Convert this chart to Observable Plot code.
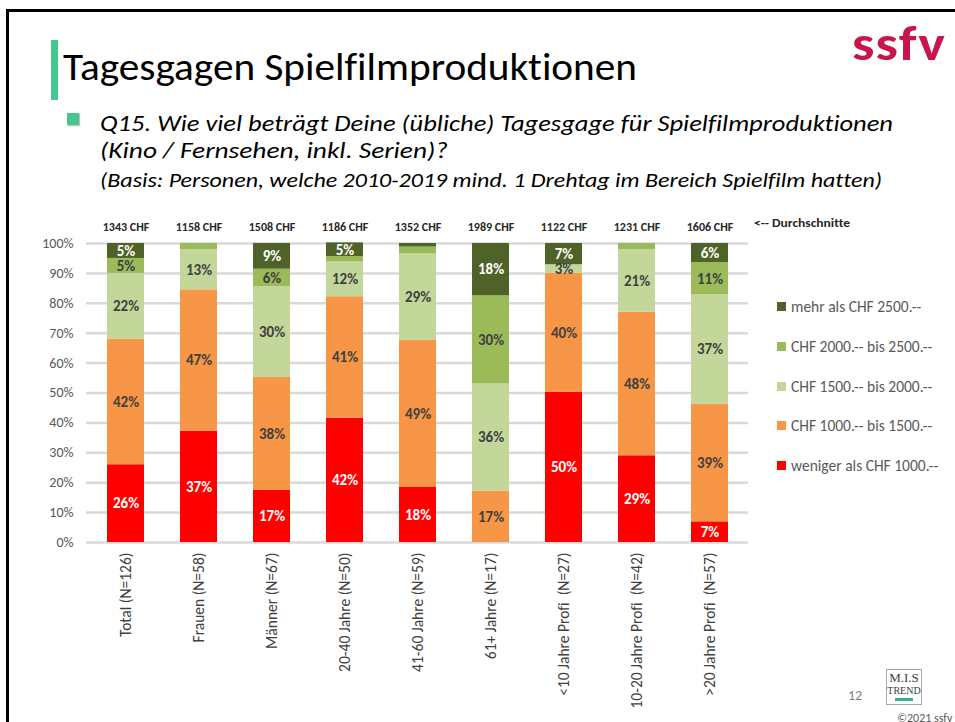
<!DOCTYPE html>
<html>
<head>
<meta charset="utf-8">
<script src="https://cdn.jsdelivr.net/npm/d3@7"></script>
<script src="https://cdn.jsdelivr.net/npm/@observablehq/plot@0.6"></script>
<style>
  html, body { margin: 0; padding: 0; background: #fff; }
  body { width: 955px; height: 722px; position: relative; overflow: hidden; font-family: Carlito, Calibri, Lato, sans-serif; font-variant-ligatures: none; }
  .abs { position: absolute; white-space: nowrap; }
  #frameTop { left: 6px; top: 9px; width: 960px; height: 3px; background: #000; }
  #frameLeft { left: 6px; top: 9px; width: 3px; height: 720px; background: #000; }
  #accent { left: 51px; top: 40px; width: 7px; height: 60px; background: #45C88F; }
  #title { left: 63px; top: 48px; font-size: 38px; color: #000; line-height: 1; transform-origin: left top; }
  #logo { left: 852px; top: 20px; font-size: 48px; font-weight: bold; color: #C8154B; line-height: 1; letter-spacing: 1px; transform-origin: left top; }
  #bullet { left: 67px; top: 113px; width: 12px; height: 12px; background: #45C88F; box-shadow: 1px 1px 1px rgba(0,0,0,0.25); }
  .q { left: 100px; font-style: italic; color: #000; line-height: 1; transform-origin: left top; }
  #q1 { top: 113px; font-size: 22px; }
  #q2 { top: 140px; font-size: 22px; }
  #q3 { top: 170px; font-size: 20px; }
  #chart { left: 0; top: 200px; }
  #avgNote { left: 754px; top: 215px; font-size: 12.5px; font-weight: bold; color: #262626; transform-origin: left top; }
  .leg { left: 777px; font-size: 15.5px; color: #595959; line-height: 1; }
  .leg span.sw { display: inline-block; width: 9px; height: 9px; margin-right: 5px; vertical-align: 1px; }
  #page { left: 848px; top: 687px; font-size: 14px; color: #7F7F7F; }
  #mis { left: 886px; top: 669px; width: 34px; height: 34px; border: 1px solid #A6A6A6; font-family: "Liberation Serif", serif; color: #404040; text-align: center; }
  #mis .a { position: absolute; left: 0; top: 1px; width: 34px; font-size: 13px; line-height: 1; }
  #mis .b { position: absolute; left: 0; top: 16px; width: 34px; font-size: 10px; line-height: 1; }
  #mis .u { position: absolute; left: 8px; top: 28px; width: 18px; height: 3px; background: #2FB58B; }
  #copy { left: 897px; top: 711px; font-size: 12px; color: #595959; }
</style>
</head>
<body>
<div class="abs" id="frameTop"></div>
<div class="abs" id="frameLeft"></div>
<div class="abs" id="accent"></div>
<div class="abs" id="title">Tagesgagen Spielfilmproduktionen</div>
<div class="abs" id="logo">ssfv</div>
<div class="abs" id="bullet"></div>
<div class="abs q" id="q1">Q15. Wie viel beträgt Deine (übliche) Tagesgage für Spielfilmproduktionen</div>
<div class="abs q" id="q2">(Kino / Fernsehen, inkl. Serien)?</div>
<div class="abs q" id="q3">(Basis: Personen, welche 2010-2019 mind. 1 Drehtag im Bereich Spielfilm hatten)</div>
<div class="abs" id="chart"></div>
<div class="abs" id="avgNote">&lt;-- Durchschnitte</div>
<div id="legend"></div>
<div class="abs" id="page">12</div>
<div class="abs" id="mis"><div class="a">M.I.S</div><div class="b">TREND</div><div class="u"></div></div>
<div class="abs" id="copy">©2021 ssfv</div>
<script>
// ---- data ----
const categories = [
  "Total (N=126)", "Frauen (N=58)", "Männer (N=67)", "20-40 Jahre (N=50)",
  "41-60 Jahre (N=59)", "61+ Jahre (N=17)", "<10 Jahre Profi  (N=27)",
  "10-20 Jahre Profi  (N=42)", ">20 Jahre Profi  (N=57)"
];
const averages = ["1343 CHF", "1158 CHF", "1508 CHF", "1186 CHF", "1352 CHF", "1989 CHF", "1122 CHF", "1231 CHF", "1606 CHF"];
const seriesNames = [
  "weniger als CHF 1000.--",
  "CHF 1000.-- bis 1500.--",
  "CHF 1500.-- bis 2000.--",
  "CHF 2000.-- bis 2500.--",
  "mehr als CHF 2500.--"
];
const seriesColors = ["#FF0000", "#F79646", "#C4D79B", "#9BBB59", "#4F6228"];
const under1000   = [26, 37.2, 17.4, 41.6, 18.4, 0,    50.2, 29, 6.9];
const from1000    = [42, 47.3, 37.8, 40.6, 49.2, 17.2, 39.8, 48, 39.3];
const from1500    = [22, 13.4, 30.3, 11.6, 28.9, 35.8, 2.9,  21, 36.6];
const from2000    = [5,  2.1,  5.9,  1.8,  2.3,  29.5, 0,    2,  10.8];
const over2500    = [5,  0,    8.6,  4.6,  1.2,  17.5, 7.1,  0,  6.4];
const yTicks = [0, 10, 20, 30, 40, 50, 60, 70, 80, 90, 100];

// ---- table ----
const seriesValues = [under1000, from1000, from1500, from2000, over2500];
const rows = [];
seriesValues.forEach((vals, s) => {
  vals.forEach((v, i) => rows.push({cat: categories[i], series: seriesNames[s], s, value: v}));
});
const avgRows = categories.map((c, i) => ({cat: c, avg: averages[i]}));
const whiteSeries = new Set([0, 4]);
const lbl = d => d.value >= 2.5 ? Math.round(d.value) + "%" : "";

const chart = Plot.plot({
  width: 760,
  height: 522,
  marginLeft: 86,
  marginRight: 12,
  marginTop: 43,
  marginBottom: 180,
  style: {fontFamily: "Carlito, Calibri, Lato, sans-serif", background: "transparent", overflow: "visible"},
  x: {domain: categories, paddingInner: 0.5, paddingOuter: 0.25, label: null},
  y: {domain: [0, 100], label: null},
  color: {domain: seriesNames, range: seriesColors},
  marks: [
    Plot.ruleY(yTicks, {stroke: "#D9D9D9", strokeWidth: 2.5}),
    Plot.barY(rows, {x: "cat", y: "value", fill: "series"}),
    Plot.text(rows, Plot.stackY({x: "cat", y: "value", text: d => whiteSeries.has(d.s) ? lbl(d) : "", fill: "white", fontSize: 15, fontWeight: "bold"})),
    Plot.text(rows, Plot.stackY({x: "cat", y: "value", text: d => !whiteSeries.has(d.s) ? lbl(d) : "", fill: "#404040", fontSize: 15, fontWeight: "bold"})),
    Plot.text(avgRows, {x: "cat", text: "avg", frameAnchor: "top", dy: -21, fontSize: 12, fontWeight: "bold", fill: "#262626"}),
    Plot.axisY({ticks: yTicks, tickFormat: d => d + "%", tickSize: 0, tickPadding: 13, fontSize: 14, fill: "#595959"}),
    Plot.axisX({tickRotate: -90, tickSize: 0, tickPadding: 10, fontSize: 15.5, fill: "#404040"})
  ]
});
document.getElementById("chart").appendChild(chart);

// ---- legend (top to bottom: highest band first) ----
const legend = document.getElementById("legend");
const legendTops = [299, 339, 379, 418, 458];
[4, 3, 2, 1, 0].forEach((s, k) => {
  const div = document.createElement("div");
  div.className = "abs leg";
  div.style.top = legendTops[k] + "px";
  div.innerHTML = `<span class="sw" style="background:${seriesColors[s]}"></span>${seriesNames[s]}`;
  legend.appendChild(div);
});

// fit widths of header texts to the slide's text widths
function fitWidth(id, target) {
  const el = document.getElementById(id);
  const w = el.getBoundingClientRect().width;
  if (w > 0) el.style.transform = `scaleX(${target / w})`;
}
fitWidth("title", 574);
fitWidth("logo", 94);
fitWidth("q1", 793);
fitWidth("q2", 348);
fitWidth("q3", 782);
fitWidth("avgNote", 96);
</script>
</body>
</html>
